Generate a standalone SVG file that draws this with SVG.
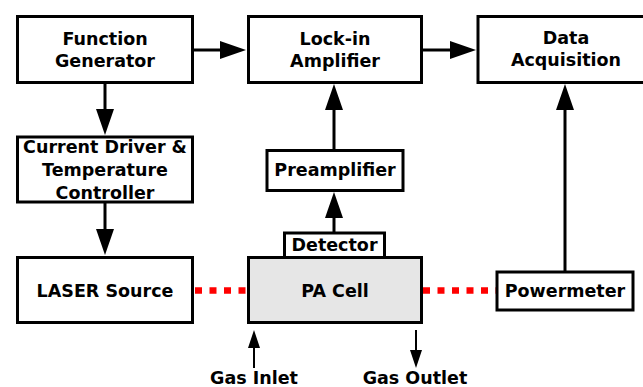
<svg xmlns="http://www.w3.org/2000/svg" width="643" height="387" viewBox="0 0 643 387">
<style>
.box{fill:#fff;stroke:#000;stroke-width:3}
.gray{fill:#e6e6e6}
text{font-family:"DejaVu Sans",Verdana,sans-serif;font-weight:bold;font-size:17.5px;text-anchor:middle;fill:#000}
.ar{stroke:#000;stroke-width:3;fill:none;marker-end:url(#ah)}
.ars{stroke:#000;stroke-width:2;fill:none;marker-end:url(#ahs)}
.beam{stroke:#f00;stroke-width:6.5;stroke-dasharray:7 7.5;fill:none}
</style>
<defs>
<marker id="ah" markerUnits="userSpaceOnUse" markerWidth="26" markerHeight="18" refX="20" refY="9" orient="auto">
<path d="M0,0 L26,9 L0,18 z" fill="#000"/>
</marker>
<marker id="ahs" markerUnits="userSpaceOnUse" markerWidth="18" markerHeight="12" refX="13" refY="6" orient="auto">
<path d="M0,0 L18,6 L0,12 z" fill="#000"/>
</marker>
</defs>
<g id="connectors">
<line class="ar" x1="194" y1="50" x2="240" y2="50"/>
<line class="ar" x1="423" y1="50" x2="470" y2="50"/>
<line class="ar" x1="105" y1="83" x2="105" y2="129"/>
<line class="ar" x1="105" y1="203" x2="105" y2="249"/>
<line class="ar" x1="334" y1="232" x2="334" y2="198"/>
<line class="ar" x1="334" y1="149" x2="334" y2="90"/>
<line class="ar" x1="565" y1="271" x2="565" y2="90"/>
<line class="ars" x1="254" y1="368" x2="254" y2="335"/>
<line class="ars" x1="416" y1="330" x2="416" y2="363"/>
<line class="beam" x1="195" y1="290.5" x2="247" y2="290.5"/>
<line class="beam" x1="423" y1="290.5" x2="496" y2="290.5"/>
</g>
<g id="function-generator">
<rect class="box" x="17.5" y="16.5" width="175" height="66"/>
<text x="105" y="45">Function</text>
<text x="105" y="67">Generator</text>
</g>
<g id="lock-in-amplifier">
<rect class="box" x="248.5" y="16.5" width="173" height="66"/>
<text x="335" y="45">Lock-in</text>
<text x="335" y="67">Amplifier</text>
</g>
<g id="data-acquisition">
<rect class="box" x="478" y="16.5" width="176" height="66"/>
<text x="566" y="44">Data</text>
<text x="566" y="66">Acquisition</text>
</g>
<g id="current-driver">
<rect class="box" x="17.5" y="137" width="175" height="65"/>
<text x="105" y="153">Current Driver &amp;</text>
<text x="105" y="176">Temperature</text>
<text x="105" y="198.5">Controller</text>
</g>
<g id="laser-source">
<rect class="box" x="17.5" y="257.5" width="175" height="65"/>
<text x="105" y="297">LASER Source</text>
</g>
<g id="pa-cell">
<rect class="box gray" x="248.5" y="257.5" width="173" height="65"/>
<text x="335" y="297">PA Cell</text>
</g>
<g id="detector">
<rect class="box" x="284.5" y="233" width="100" height="24.5"/>
<text x="334.5" y="251">Detector</text>
</g>
<g id="preamplifier">
<rect class="box" x="267" y="150.5" width="136" height="40"/>
<text x="335" y="175.5">Preamplifier</text>
</g>
<g id="powermeter">
<rect class="box" x="497" y="272" width="136" height="38"/>
<text x="565" y="297">Powermeter</text>
</g>
<g id="gas-inlet">
<text x="254" y="383.5">Gas Inlet</text>
</g>
<g id="gas-outlet">
<text x="415" y="383.5">Gas Outlet</text>
</g>
</svg>
